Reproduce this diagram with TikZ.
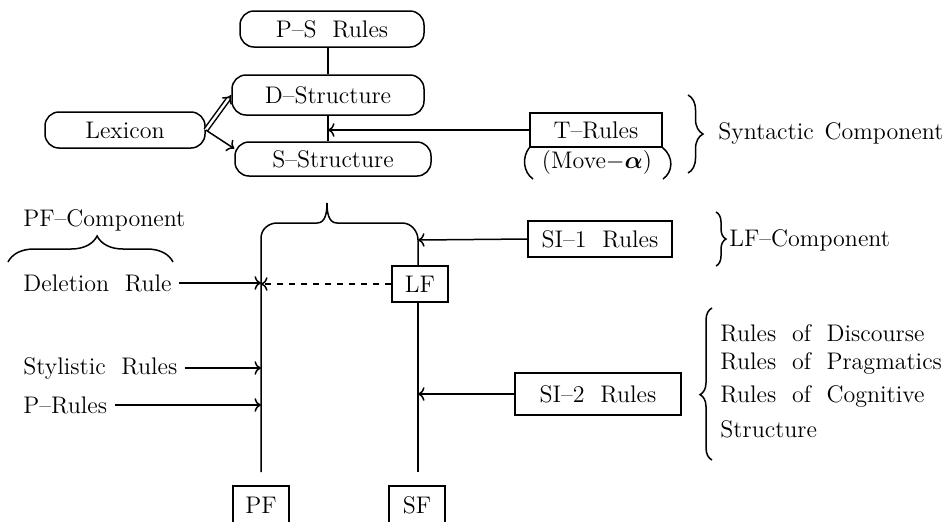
\documentclass[tikz,border=0pt]{standalone}
\usepackage{amsmath}
\usetikzlibrary{positioning,decorations.pathreplacing,arrows.meta}

\tikzset{
	roundbox/.style={draw, rounded corners=7pt, minimum height=18pt, inner sep=2pt},
	rulebox/.style={draw, rectangle, minimum height=18pt, inner sep=2pt},
	brc/.style={decorate, decoration={brace, amplitude=#1}},
	brc/.default=5pt
}

\begin{document}
\begin{tikzpicture}[x=0.5pt, y=-0.5pt, font=\fontsize{12}{14}\selectfont, line width=0.75pt, >=To]
	\useasboundingbox (0,0) rectangle (951,521);

	% syntactic component
	\node[roundbox, minimum width=92pt] (psr) at (332,29) {P--S~~Rules};
	\node[roundbox, minimum width=96pt, minimum height=20pt] (dstr) at (328,95) {D--Structure};
	\node[roundbox, minimum width=98pt, minimum height=17pt] (sstr) at (333,159) {S--Structure};
	\node[roundbox, minimum width=80pt] (lex) at (125,130) {Lexicon};
	\node[rulebox, minimum width=66pt, minimum height=17pt] (trules) at (596,130) {T--Rules};
	\node (move) at (597,163) {(Move$-\boldsymbol{\alpha}$)};
	\node[anchor=west] (syn) at (711,133) {Syntactic\hspace{0.45em}Component};

	\draw (dstr.north |- psr.south) -- (dstr.north);
	\draw (dstr.south) -- (dstr.south |- sstr.north);
	\draw[->] (trules.west) -- (trules.west -| dstr.south);
	\draw[double, double distance=1.2pt, -{Implies}] (lex.east) -- (dstr.west);
	\draw[->] (lex.east) -- (sstr.174);
	\draw (trules.south west) .. controls (522,157) and (523,172) .. (533,179);
	\draw (trules.south east) .. controls (674,157) and (673,172) .. (663,179);
	\draw[brc=7.5pt] (688,95) -- (688,173);

	% LF side
	\node[rulebox, minimum width=72pt] (si1) at (600,239) {SI--1~~Rules};
	\node[anchor=west] (lfc) at (722,240) {LF--Component};
	\node[rulebox, minimum width=28pt] (lf) at (420,284) {LF};
	\node[rulebox, minimum width=83pt, minimum height=21pt] (si2) at (598,394) {SI--2~~Rules};
	\foreach \y/\t [count=\i] in {333/Rules~~of~~Discourse, 363/Rules~~of~~Pragmatics,
		396/Rules~~of~~Cognitive, 429/Structure} {
		\node[anchor=west] (disc\i) at (713,\y) {\t};
	};
	\draw[brc=5pt] (716,212) -- (716,266);
	\draw[brc=6pt, decoration={aspect=0.43}] (712,460) -- (712,308);

	% PF side
	\node[anchor=west] (pfc) at (16,220) {PF--Component};
	\node[anchor=west] (del) at (16,283) {Deletion~~Rule};
	\node[anchor=west] (sty) at (16,368) {Stylistic~~Rules};
	\node[anchor=west] (prul) at (16,405) {P--Rules};
	\draw[brc=13pt, decoration={aspect=0.54}] (8,262) -- (173,262);

	\node[rulebox, minimum width=28pt, minimum height=24pt] (pf) at (261,510) {};
	\node[rulebox, minimum width=28pt, minimum height=24pt] (sf) at (417,510) {};
	\node at (261,505) {PF};
	\node at (417,505) {SF};

	\coordinate (pftop) at (261,238);
	\coordinate (pfend) at (261,472);
	\coordinate (sfend) at (418,472);
	\coordinate (lfin) at (418,240);

	% the split below S-Structure
	\draw (pfend) -- (pftop) to[out=90, in=180] (277,223) -- (317,223)
		to[out=0, in=-90] (327,203) to[out=-90, in=180] (337,223) -- (402,223)
		to[out=0, in=90] (lfin) -- (lfin |- lf.north);
	\draw (lf.south -| sfend) -- (sfend);

	\draw[->] (si1.west) -- (lfin);
	\draw[->, dashed] (lf.west) -- (lf.west -| pfend);
	\draw[->] (del.east) -- (del.east -| pfend);
	\draw[->] (sty.east) -- (sty.east -| pfend);
	\draw[->] (prul.east) -- (prul.east -| pfend);
	\draw[->] (si2.west) -- (si2.west -| sfend);
\end{tikzpicture}
\end{document}
